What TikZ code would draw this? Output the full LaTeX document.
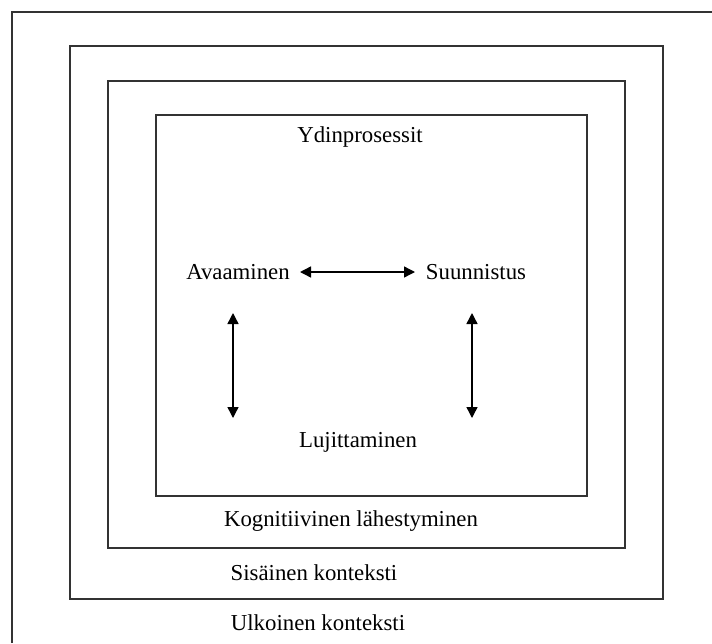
\documentclass[tikz,border=0pt]{standalone}
\usepackage{fontspec}
\setmainfont{Liberation Serif}
\usetikzlibrary{arrows.meta}
\begin{document}
\begin{tikzpicture}[x=1pt,y=-1pt,
  frame/.style={draw=black!80,line width=1.5pt},
  lbl/.style={font=\fontsize{22.8}{26}\selectfont,inner sep=0pt,anchor=base},
  dbl/.style={{Triangle[length=11pt,width=11pt]}-{Triangle[length=11pt,width=11pt]},line width=1.4pt}]
\useasboundingbox (0,0) rectangle (712,643);
% outer frame (open at right and bottom)
\draw[frame] (12,643) -- (12,12) -- (712,12);
% nested boxes
\draw[frame] (70,46) rectangle (663,599);
\draw[frame] (108,81) rectangle (625,548);
\draw[frame] (156,115) rectangle (587,496);
% labels
\node[lbl] (ydin) at (360,142) {Ydinprosessit};
\node[lbl] (avaa) at (238,279) {Avaaminen};
\node[lbl] (suun) at (476,279) {Suunnistus};
\node[lbl] (luji) at (358,447) {Lujittaminen};
\node[lbl] (kogn) at (351,526) {Kognitiivinen lähestyminen};
\node[lbl] (sisa) at (314,580) {Sisäinen konteksti};
\node[lbl] (ulko) at (318,630) {Ulkoinen konteksti};
% arrow ends
\coordinate (h1) at (300,272);
\coordinate (h2) at (415,272);
\coordinate (l1) at (233,313);
\coordinate (l2) at (233,418);
\coordinate (r1) at (472,313);
\coordinate (r2) at (472,418);
\draw[dbl] (h1) -- (h2);
\draw[dbl] (l1) -- (l2);
\draw[dbl] (r1) -- (r2);
\end{tikzpicture}
\end{document}
